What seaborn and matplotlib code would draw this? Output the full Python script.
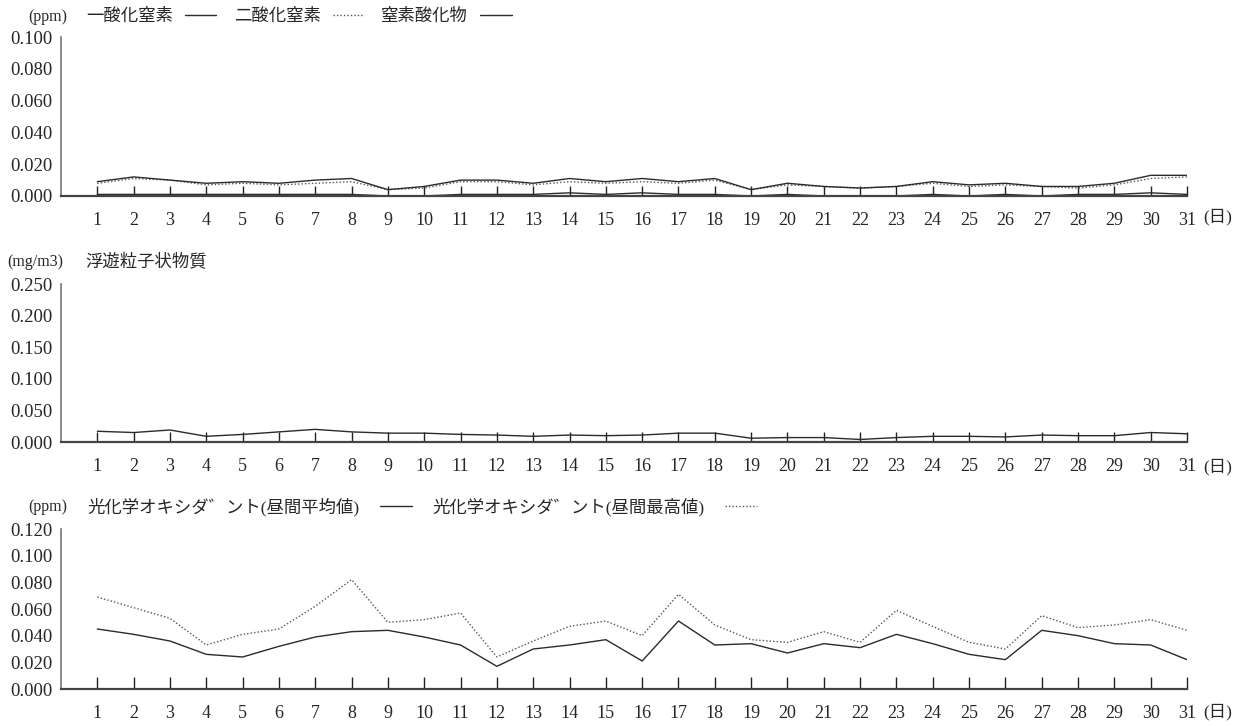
import matplotlib
matplotlib.use("Agg")
import matplotlib.pyplot as plt
import seaborn as sns
import numpy as np
import pandas as pd

sns.set_style("white")
plt.rcParams['font.family'] = ['Liberation Serif', 'Noto Sans CJK JP', 'DejaVu Sans']

# Datos (días del mes)
days = list(range(1, 32))

# Óxidos de nitrógeno (ppm)
no_vals = [0.001, 0.001, 0.001, 0.001, 0.001, 0.001, 0.001, 0.001, 0.000, 0.000,
           0.001, 0.001, 0.001, 0.002, 0.001, 0.002, 0.001, 0.001, 0.000, 0.001,
           0.000, 0.000, 0.000, 0.001, 0.000, 0.001, 0.000, 0.001, 0.001, 0.002, 0.001]
no2_vals = [0.008, 0.011, 0.010, 0.007, 0.008, 0.007, 0.008, 0.009, 0.004, 0.005,
            0.009, 0.009, 0.007, 0.009, 0.008, 0.009, 0.008, 0.010, 0.004, 0.007,
            0.006, 0.005, 0.006, 0.008, 0.006, 0.007, 0.006, 0.005, 0.007, 0.011, 0.012]
nox_vals = [0.009, 0.012, 0.010, 0.008, 0.009, 0.008, 0.010, 0.011, 0.004, 0.006,
            0.010, 0.010, 0.008, 0.011, 0.009, 0.011, 0.009, 0.011, 0.004, 0.008,
            0.006, 0.005, 0.006, 0.009, 0.007, 0.008, 0.006, 0.006, 0.008, 0.013, 0.013]

# Material particulado en suspensión (mg/m3)
spm_vals = [0.017, 0.015, 0.019, 0.009, 0.012, 0.016, 0.020, 0.016, 0.014, 0.014,
            0.012, 0.011, 0.009, 0.011, 0.010, 0.011, 0.014, 0.014, 0.006, 0.007,
            0.007, 0.004, 0.007, 0.009, 0.009, 0.008, 0.011, 0.010, 0.010, 0.015, 0.013]

# Oxidantes fotoquímicos (ppm)
ox_avg = [0.045, 0.041, 0.036, 0.026, 0.024, 0.032, 0.039, 0.043, 0.044, 0.039,
          0.033, 0.017, 0.030, 0.033, 0.037, 0.021, 0.051, 0.033, 0.034, 0.027,
          0.034, 0.031, 0.041, 0.034, 0.026, 0.022, 0.044, 0.040, 0.034, 0.033, 0.022]
ox_max = [0.069, 0.061, 0.053, 0.033, 0.041, 0.045, 0.062, 0.082, 0.050, 0.052,
          0.057, 0.024, 0.036, 0.047, 0.051, 0.040, 0.071, 0.048, 0.037, 0.035,
          0.043, 0.035, 0.059, 0.047, 0.035, 0.030, 0.055, 0.046, 0.048, 0.052, 0.044]

yticks_nox = [0.0, 0.02, 0.04, 0.06, 0.08, 0.10]
yticks_spm = [0.0, 0.05, 0.10, 0.15, 0.20, 0.25]
yticks_ox = [0.0, 0.02, 0.04, 0.06, 0.08, 0.10, 0.12]

W, H = 1247, 726
fig = plt.figure(figsize=(W / 100, H / 100), dpi=100)

def px_ax(top, bottom):
    return fig.add_axes([61 / W, 1 - bottom / H, 1126 / W, (bottom - top) / H])

ax1 = px_ax(37, 196)
ax2 = px_ax(284, 442)
ax3 = px_ax(529, 689)

solid = dict(color='#2b2b2b', linewidth=1.0)
dotted = dict(color='#555555', linewidth=1.0, linestyle=(0, (1, 1.5)))

df1 = pd.DataFrame({'day': days, 'no': no_vals, 'no2': no2_vals, 'nox': nox_vals})
sns.lineplot(data=df1, x='day', y='no', ax=ax1, label='一酸化窒素', **solid)
sns.lineplot(data=df1, x='day', y='no2', ax=ax1, label='二酸化窒素', **dotted)
sns.lineplot(data=df1, x='day', y='nox', ax=ax1, label='窒素酸化物', **solid)

df2 = pd.DataFrame({'day': days, 'spm': spm_vals})
sns.lineplot(data=df2, x='day', y='spm', ax=ax2, **solid)

df3 = pd.DataFrame({'day': days, 'avg': ox_avg, 'max': ox_max})
sns.lineplot(data=df3, x='day', y='avg', ax=ax3, label='光化学オキシダ゛ント(昼間平均値)', **solid)
sns.lineplot(data=df3, x='day', y='max', ax=ax3, label='光化学オキシダ゛ント(昼間最高値)', **dotted)

def style_ax(ax, yticks, tick_len):
    ax.set_xlim(0, 31)
    ax.set_ylim(0, yticks[-1])
    ax.set_xticks(days)
    ax.set_xticklabels([str(d) for d in days])
    ax.set_yticks(yticks)
    ax.set_yticklabels([f"{v:.3f}" for v in yticks])
    ax.tick_params(axis='x', direction='in', length=tick_len, width=1.0, color='#222222',
                   pad=11.5, labelsize=13, bottom=True)
    ax.tick_params(axis='y', length=0, pad=6, labelsize=13.5, left=True)
    ax.set_xlabel('')
    ax.set_ylabel('')
    for s in ['top', 'right']:
        ax.spines[s].set_visible(False)
    ax.spines['left'].set_color('#777777')
    ax.spines['left'].set_linewidth(1.2)
    ax.spines['bottom'].set_color('#444444')
    ax.spines['bottom'].set_linewidth(1.6)
    ax.set_facecolor('white')

style_ax(ax1, yticks_nox, 7)
style_ax(ax2, yticks_spm, 7)
style_ax(ax3, yticks_ox, 9)

jp = ['Liberation Serif', 'Noto Sans CJK JP']

def fig_text(x, y, s, size=12.5, **kw):
    fig.text(x / W, 1 - y / H, s, va='center', fontsize=size, family=jp, **kw)

# Leyendas con el texto antes de la línea
leg1 = ax1.legend(loc='center left', bbox_to_anchor=(86 / W, 1 - 17 / H),
                  bbox_transform=fig.transFigure, ncol=3, frameon=False,
                  markerfirst=False, borderpad=0, borderaxespad=0,
                  handlelength=1.8, handletextpad=0.7, columnspacing=1.0,
                  prop={'family': jp, 'size': 12.5})
leg3 = ax3.legend(loc='center left', bbox_to_anchor=(87 / W, 1 - 507 / H),
                  bbox_transform=fig.transFigure, ncol=2, frameon=False,
                  markerfirst=False, borderpad=0, borderaxespad=0,
                  handlelength=1.85, handletextpad=1.2, columnspacing=1.15,
                  prop={'family': jp, 'size': 12.5})

fig_text(28, 17, '(ppm)', size=11.5)
fig_text(7, 262, '(mg/m3)', size=11.5)
fig_text(85, 262, '浮遊粒子状物質')
fig_text(28, 507, '(ppm)', size=11.5)

for y in [217, 467, 712]:
    fig_text(1203, y, '(日)', size=12.5, ha='left')

fig.savefig('out.png', dpi=100)
